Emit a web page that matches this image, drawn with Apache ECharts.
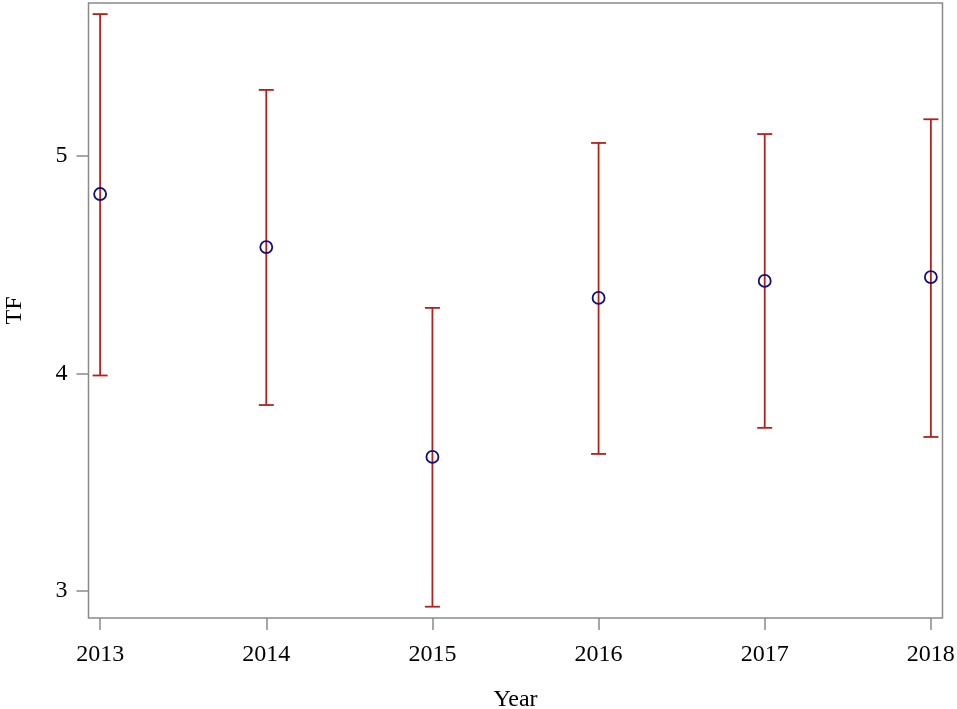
<!DOCTYPE html>
<html>
<head>
<meta charset="utf-8">
<script src="https://cdn.jsdelivr.net/npm/echarts@6/dist/echarts.min.js"></script>
<style>
  html, body { margin: 0; padding: 0; background: #fff; }
  #chart { width: 957px; height: 709px; }
</style>
</head>
<body>
<div id="chart"></div>
<script>
// values
var years = [2013, 2014, 2015, 2016, 2017, 2018];
var means = [4.825, 4.581, 3.615, 4.347, 4.425, 4.443];
var lowers = [3.99, 3.854, 2.926, 3.629, 3.749, 3.707];
var uppers = [5.653, 5.304, 4.301, 5.06, 5.101, 5.169];
var yTicks = [3, 4, 5];

var fontName = '"Liberation Serif", "DejaVu Serif", serif';
var frameColor = '#8a8a8a';
var barColor = '#b0231c';
var dotColor = '#0e0e80';

var barData = [];
var dotData = [];
for (var i = 0; i < years.length; i++) {
    barData.push([years[i], lowers[i], uppers[i]]);
    dotData.push([years[i], means[i]]);
}

var chart = echarts.init(document.getElementById('chart'));

var option = {
    animation: false,
    backgroundColor: '#fff',
    grid: {
        left: 88.5,
        right: 14.5,
        top: 3,
        bottom: 91,
        outerBoundsMode: 'none',
        containLabel: false,
        show: true,
        borderColor: frameColor,
        borderWidth: 1.5,
        backgroundColor: 'transparent'
    },
    xAxis: {
        type: 'value',
        min: 2012.93,
        max: 2018.07,
        name: 'Year',
        nameLocation: 'middle',
        nameGap: 70,
        nameTextStyle: { fontFamily: fontName, fontSize: 24, color: '#000' },
        axisLine: { show: false },
        splitLine: { show: false },
        axisTick: {
            show: true,
            length: 12,
            customValues: years,
            lineStyle: { color: frameColor, width: 1.5 }
        },
        axisLabel: {
            customValues: years,
            margin: 25,
            fontFamily: fontName,
            fontSize: 24,
            color: '#000',
            formatter: function (v) { return String(v); }
        }
    },
    yAxis: {
        type: 'value',
        min: 2.874,
        max: 5.704,
        name: 'TF',
        nameLocation: 'middle',
        nameRotate: 90,
        nameGap: 62,
        nameTextStyle: { fontFamily: fontName, fontSize: 24, color: '#000' },
        axisLine: { show: false },
        splitLine: { show: false },
        axisTick: {
            show: true,
            length: 12,
            customValues: yTicks,
            lineStyle: { color: frameColor, width: 1.5 }
        },
        axisLabel: {
            customValues: yTicks,
            margin: 21,
            fontFamily: fontName,
            fontSize: 24,
            color: '#000'
        }
    },
    series: [
        {
            type: 'custom',
            data: barData,
            renderItem: function (params, api) {
                var x = api.value(0);
                var lo = api.coord([x, api.value(1)]);
                var hi = api.coord([x, api.value(2)]);
                var half = 7.5;
                var style = { stroke: barColor, lineWidth: 1.8 };
                return {
                    type: 'group',
                    children: [
                        { type: 'line', shape: { x1: hi[0], y1: hi[1], x2: lo[0], y2: lo[1] }, style: style },
                        { type: 'line', shape: { x1: hi[0] - half, y1: hi[1], x2: hi[0] + half, y2: hi[1] }, style: style },
                        { type: 'line', shape: { x1: lo[0] - half, y1: lo[1], x2: lo[0] + half, y2: lo[1] }, style: style }
                    ]
                };
            },
            z: 2
        },
        {
            type: 'scatter',
            data: dotData,
            symbol: 'circle',
            symbolSize: 12,
            itemStyle: { color: 'none', borderColor: dotColor, borderWidth: 1.8, opacity: 1 },
            z: 3
        }
    ]
};

chart.setOption(option);
</script>
</body>
</html>
